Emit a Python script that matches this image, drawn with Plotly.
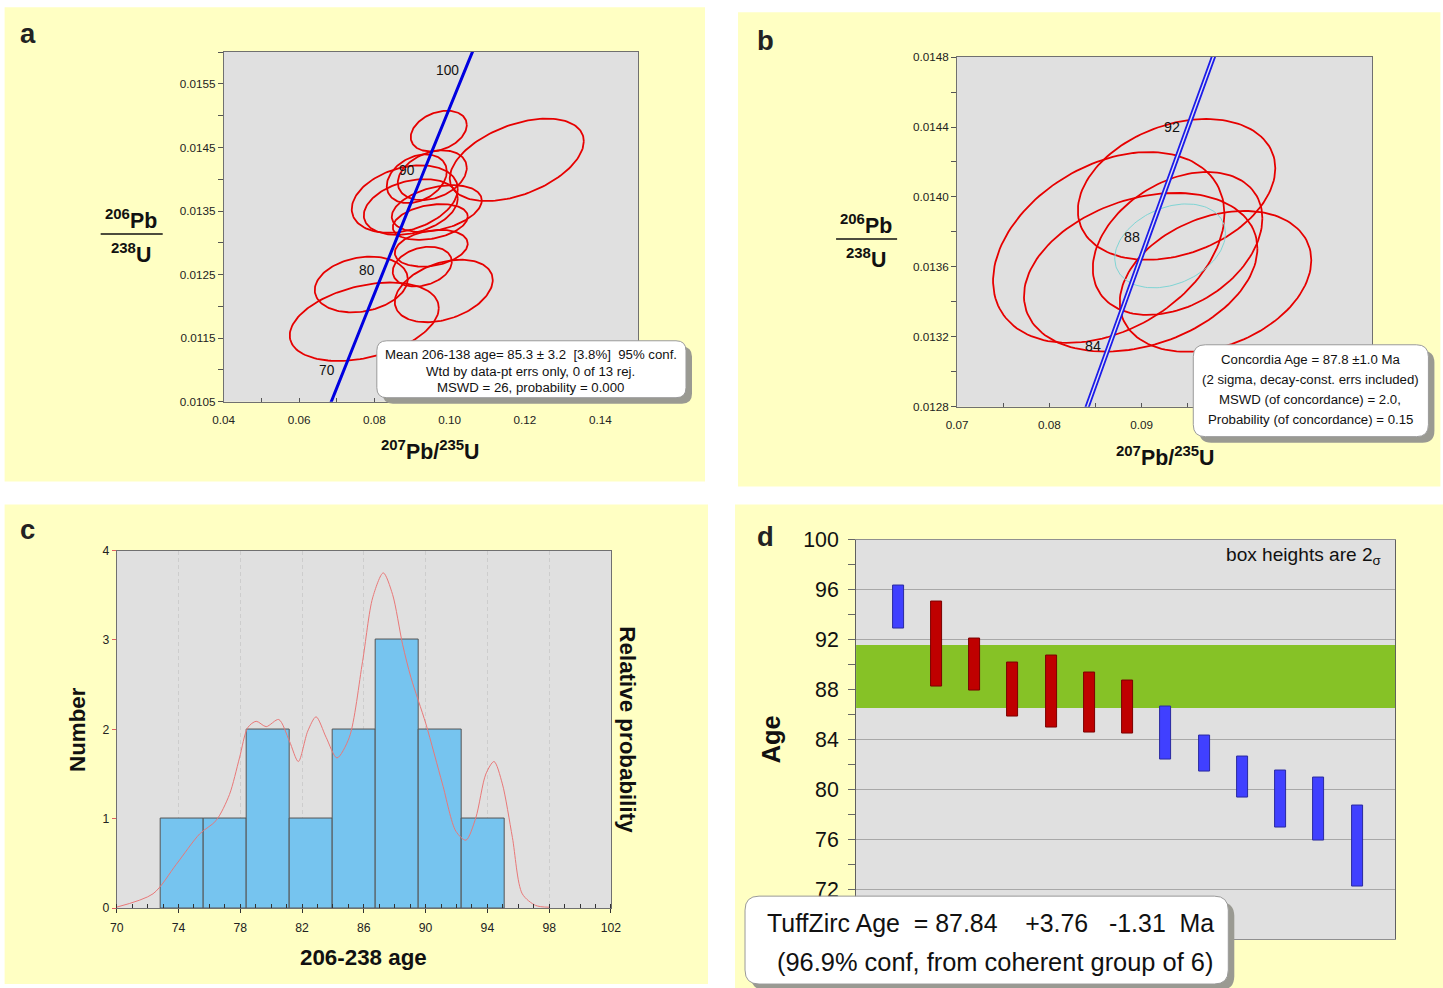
import numpy as np
import plotly.graph_objects as go

# The page is photographed with an 8px body margin and a slight down-scaling,
# so reference pixel positions are mapped into figure pixels below.
BODY_MARGIN = 8
SX, SY = 0.985, 0.982
CX, CY = 3.5, 4.0
FS = 1 / 0.9835          # font / length compensation
W, H = 1453, 994
FONT = "Liberation Sans, Arial, sans-serif"

# ---------------- data ----------------
LAMBDA_238 = 1.55125e-10
LAMBDA_235 = 9.8485e-10
conc_ages = [60, 64, 68, 72, 76, 80, 84, 88, 92, 96, 100, 104, 108, 112]

# panel a : 13 analyses (207Pb/235U, 2s, 206Pb/238U, 2s, rho)
a_x = [0.09710, 0.11782, 0.09126, 0.09538, 0.08807, 0.08967, 0.09657,
       0.09485, 0.09511, 0.09272, 0.09843, 0.07652, 0.07732]
a_sx = [0.00744, 0.01780, 0.00797, 0.00916, 0.01408, 0.01248, 0.01195,
        0.00996, 0.00969, 0.00784, 0.01301, 0.01235, 0.01979]
a_y = [0.014758, 0.014305, 0.014008, 0.014063, 0.013688, 0.013563, 0.013539,
       0.013328, 0.012914, 0.012625, 0.012242, 0.012344, 0.011758]
a_sy = [0.000320, 0.000648, 0.000383, 0.000391, 0.000531, 0.000438, 0.000367,
        0.000281, 0.000289, 0.000313, 0.000492, 0.000438, 0.000617]
a_rho = [0.30, 0.45, 0.30, 0.30, 0.30, 0.30, 0.35, 0.30, 0.25, 0.25, 0.35, 0.20, 0.35]
a_conc_labels = [70, 80, 90, 100]

# panel b : coherent group
b_x = [0.09378, 0.08643, 0.09389, 0.08989, 0.09800]
b_sx = [0.01070, 0.01254, 0.00919, 0.01265, 0.01038]
b_y = [0.014043, 0.013711, 0.013734, 0.013569, 0.013517]
b_sy = [0.000403, 0.000546, 0.000409, 0.000454, 0.000403]
b_rho = [0.30, 0.35, 0.35, 0.30, 0.30]
b_mean = [0.09308, 0.0060, 0.01372, 0.00024, 0.30]
b_conc_labels = [84, 88, 92]

# panel c : histogram + relative probability
hist_counts = [1, 1, 2, 1, 2, 3, 2, 1]
hist_start = 72.85
hist_width = 2.785
pdf_age = [69.98, 72.35, 73.86, 75.37, 76.44, 77.30, 77.95, 78.49, 79.03, 79.68,
           80.49, 81.18, 81.76, 82.37, 82.91, 83.56, 84.26, 85.06, 85.92, 86.57,
           87.26, 87.86, 88.51, 89.05, 90.02, 91.09, 91.96, 92.61, 93.25, 93.90,
           94.43, 94.97, 95.62, 96.26, 97.13, 97.99]
pdf_val = [0.01, 0.16, 0.49, 0.83, 0.98, 1.27, 1.68, 2.02, 2.09, 2.03,
           2.11, 1.87, 1.64, 1.98, 2.14, 1.91, 1.68, 1.91, 2.76, 3.47,
           3.75, 3.51, 2.95, 2.58, 2.06, 1.39, 0.86, 0.76, 1.01, 1.50,
           1.64, 1.39, 0.79, 0.16, 0.03, 0.01]

# panel d : weighted ages (2 sigma boxes)
d_high = [96.32, 95.04, 92.05, 90.16, 90.72, 89.33, 88.72, 86.59, 84.32, 82.61, 81.47, 80.91, 78.67]
d_low = [92.90, 88.26, 87.87, 85.81, 84.93, 84.53, 84.48, 82.40, 81.39, 79.36, 76.96, 75.87, 72.21]
d_coherent = [False, True, True, True, True, True, True, False, False, False, False, False, False]
tuff_age, tuff_plus, tuff_minus = 87.84, 3.76, 1.31

# tick labels
a_xticks = [0.04, 0.06, 0.08, 0.10, 0.12, 0.14]
a_yticks = [0.0105, 0.0115, 0.0125, 0.0135, 0.0145, 0.0155]
b_xticks = [0.07, 0.08, 0.09]
b_yticks = [0.0128, 0.0132, 0.0136, 0.0140, 0.0144, 0.0148]
c_xticks = [70, 74, 78, 82, 86, 90, 94, 98, 102]
c_yticks = [0, 1, 2, 3, 4]
d_yticks = [72, 76, 80, 84, 88, 92, 96, 100]

# ---------------- helpers ----------------
def X(p):
    return ((p - CX) / SX - BODY_MARGIN) / W

def Y(p):
    return 1 - ((p - CY) / SY - BODY_MARGIN) / H

def F(s):
    return round(s * FS, 2)

def concordia(ages):
    t = np.asarray(ages, float) * 1e6
    return np.exp(LAMBDA_235 * t) - 1, np.exp(LAMBDA_238 * t) - 1

def ellipses(cx, sx, cy, sy, rho, n=140):
    xs, ys = [], []
    t = np.linspace(0, 2 * np.pi, n)
    for a, b, c, d, r in zip(cx, sx, cy, sy, rho):
        xs += list(a + b * np.cos(t)) + [None]
        ys += list(c + d * (r * np.cos(t) + np.sqrt(1 - r * r) * np.sin(t))) + [None]
    return xs, ys

def rrect_path(x0, y0, x1, y1, r):
    return (f"M {X(x0+r)},{Y(y0)} L {X(x1-r)},{Y(y0)} Q {X(x1)},{Y(y0)} {X(x1)},{Y(y0+r)} "
            f"L {X(x1)},{Y(y1-r)} Q {X(x1)},{Y(y1)} {X(x1-r)},{Y(y1)} "
            f"L {X(x0+r)},{Y(y1)} Q {X(x0)},{Y(y1)} {X(x0)},{Y(y1-r)} "
            f"L {X(x0)},{Y(y0+r)} Q {X(x0)},{Y(y0)} {X(x0+r)},{Y(y0)} Z")

annotations = []

def ann(px, py, text, size=13, color="#111", angle=0, xanchor="center", yanchor="middle"):
    annotations.append(dict(x=X(px), y=Y(py), xref="paper", yref="paper", text=text,
                            showarrow=False, textangle=angle, xanchor=xanchor, yanchor=yanchor,
                            font=dict(family=FONT, size=F(size), color=color)))

fig = go.Figure()

# ---------------- panel a ----------------
ex, ey = ellipses(a_x, a_sx, a_y, a_sy, a_rho)
fig.add_trace(go.Scatter(x=ex, y=ey, mode="lines", line=dict(color="#E60000", width=1.8),
                         xaxis="x", yaxis="y", hoverinfo="skip"))
cx, cy = concordia(conc_ages)
fig.add_trace(go.Scatter(x=cx, y=cy, mode="lines", line=dict(color="#0000E0", width=3, shape="spline"),
                         xaxis="x", yaxis="y", hoverinfo="skip"))
lx, ly = concordia(a_conc_labels)
for age, xx, yy in zip(a_conc_labels, lx, ly):
    annotations.append(dict(x=xx, y=yy, xref="x", yref="y", text=str(age), showarrow=False,
                            xshift=F(-15), yshift=F(5), font=dict(family=FONT, size=F(13.5), color="#111")))

# ---------------- panel b ----------------
ex, ey = ellipses(b_x, b_sx, b_y, b_sy, b_rho)
fig.add_trace(go.Scatter(x=ex, y=ey, mode="lines", line=dict(color="#E60000", width=1.8),
                         xaxis="x2", yaxis="y2", hoverinfo="skip"))
mx, my = ellipses([b_mean[0]], [b_mean[1]], [b_mean[2]], [b_mean[3]], [b_mean[4]])
fig.add_trace(go.Scatter(x=mx, y=my, mode="lines", line=dict(color="#7FD4D4", width=1),
                         xaxis="x2", yaxis="y2", hoverinfo="skip"))
fig.add_trace(go.Scatter(x=cx, y=cy, mode="lines", line=dict(color="#1C1CE8", width=5, shape="spline"),
                         xaxis="x2", yaxis="y2", hoverinfo="skip"))
fig.add_trace(go.Scatter(x=cx, y=cy, mode="lines", line=dict(color="#E4E4F4", width=1.4, shape="spline"),
                         xaxis="x2", yaxis="y2", hoverinfo="skip"))
lx, ly = concordia(b_conc_labels)
for age, xx, yy in zip(b_conc_labels, lx, ly):
    annotations.append(dict(x=xx, y=yy, xref="x2", yref="y2", text=str(age), showarrow=False,
                            xshift=F(-14), yshift=F(5), font=dict(family=FONT, size=F(14), color="#111")))

# ---------------- panel c ----------------
centers = [hist_start + hist_width * (i + 0.5) for i in range(len(hist_counts))]
fig.add_trace(go.Bar(x=centers, y=hist_counts, width=hist_width,
                     marker=dict(color="#76C4EF", line=dict(color="#555555", width=1)),
                     xaxis="x3", yaxis="y3", hoverinfo="skip"))
fig.add_trace(go.Scatter(x=pdf_age, y=pdf_val, mode="lines",
                         line=dict(color="#E87878", width=1, shape="spline", smoothing=0.8),
                         xaxis="x3", yaxis="y3", hoverinfo="skip"))

# ---------------- panel d ----------------
fig.add_trace(go.Bar(x=[6.95], y=[tuff_plus + tuff_minus], base=[tuff_age - tuff_minus], width=[14.1],
                     marker=dict(color="#86C226", line=dict(width=0)),
                     xaxis="x4", yaxis="y4", hoverinfo="skip"))
idx = list(range(1, len(d_low) + 1))
cols = ["#BF0000" if c else "#4040FF" for c in d_coherent]
lcols = ["#7A0000" if c else "#2A2AA0" for c in d_coherent]
fig.add_trace(go.Bar(x=idx, y=[h - l for h, l in zip(d_high, d_low)], base=d_low, width=0.29,
                     marker=dict(color=cols, line=dict(color=lcols, width=1)),
                     xaxis="x4", yaxis="y4", hoverinfo="skip"))

# ---------------- axes ----------------
tickfont = dict(family=FONT, size=F(11.5), color="#222")
common = dict(showline=True, linecolor="#707070", linewidth=1, mirror=True, zeroline=False,
              showgrid=False, fixedrange=True, tickfont=tickfont, tickcolor="#555")

layout_axes = dict(
    xaxis=dict(common, domain=[X(224), X(638)], range=[0.04, 0.15], anchor="y",
               tickvals=a_xticks, tickformat=".2f", ticks="inside", ticklen=4, ticklabelstandoff=7,
               minor=dict(tick0=0.04, dtick=0.01, ticks="inside", ticklen=4, tickcolor="#555")),
    yaxis=dict(common, domain=[Y(402), Y(52)], range=[0.0105, 0.016], anchor="x",
               tickvals=a_yticks, tickformat=".4f", ticks="outside", ticklen=5,
               minor=dict(tick0=0.0105, dtick=0.0005, ticks="outside", ticklen=5, tickcolor="#555")),
    xaxis2=dict(common, domain=[X(957), X(1372)], range=[0.07, 0.115], anchor="y2",
                tickvals=b_xticks, tickformat=".2f", ticks="inside", ticklen=4, ticklabelstandoff=7,
                minor=dict(tick0=0.07, dtick=0.005, ticks="inside", ticklen=4, tickcolor="#555")),
    yaxis2=dict(common, domain=[Y(407), Y(57)], range=[0.0128, 0.0148], anchor="x2",
                tickvals=b_yticks, tickformat=".4f", ticks="outside", ticklen=5,
                minor=dict(tick0=0.0128, dtick=0.0002, ticks="outside", ticklen=5, tickcolor="#555")),
    xaxis3=dict(common, domain=[X(117), X(611)], range=[70, 102], anchor="y3",
                tickvals=c_xticks, ticks="outside", ticklen=4, tickcolor="#333", ticklabelstandoff=4,
                tickfont=dict(family=FONT, size=F(12), color="#222"),
                showgrid=True, gridcolor="#CDCDCD", griddash="4px,3px", gridwidth=1,
                minor=dict(tick0=70, dtick=1, ticks="inside", ticklen=4, tickcolor="#333", showgrid=False)),
    yaxis3=dict(common, domain=[Y(909), Y(551)], range=[0, 4], anchor="x3",
                tickvals=c_yticks, ticks="outside", ticklen=4, tickcolor="#E06060",
                tickfont=dict(family=FONT, size=F(12), color="#222")),
    xaxis4=dict(common, domain=[X(856), X(1395)], range=[-0.1, 14], anchor="y4",
                showticklabels=False, ticks="", linecolor="#909090"),
    yaxis4=dict(common, domain=[Y(940), Y(540)], range=[68, 100], anchor="x4",
                tickvals=d_yticks, ticks="outside", ticklen=7, tickcolor="#666", ticklabelstandoff=5,
                tickfont=dict(family=FONT, size=F(21), color="#111"),
                showgrid=True, gridcolor="#A8A8A8", gridwidth=1, linecolor="#606060",
                minor=dict(tick0=68, dtick=2, ticks="outside", ticklen=7, tickcolor="#666", showgrid=False)),
)

# ---------------- shapes ----------------
YEL = "#FFFFC3"
GREY = "#E0E0E0"
shapes = []
for (x0, y0, x1, y1) in [(5, 7, 705, 482), (738, 12, 1440, 487), (5, 505, 708, 985), (735, 505, 1460, 1010)]:
    shapes.append(dict(type="rect", xref="paper", yref="paper", x0=X(x0), x1=X(x1), y0=Y(y1), y1=Y(y0),
                       fillcolor=YEL, line=dict(width=0), layer="below"))
for (x0, y0, x1, y1) in [(224, 52, 638, 402), (957, 57, 1372, 407), (117, 551, 611, 909), (856, 540, 1395, 940)]:
    shapes.append(dict(type="rect", xref="paper", yref="paper", x0=X(x0), x1=X(x1), y0=Y(y1), y1=Y(y0),
                       fillcolor=GREY, line=dict(width=0), layer="below"))
# fraction bars of y titles
for (x0, x1, yy) in [(101, 163, 234), (836, 897, 239)]:
    shapes.append(dict(type="line", xref="paper", yref="paper", x0=X(x0), x1=X(x1), y0=Y(yy), y1=Y(yy),
                       line=dict(color="#111", width=1.5)))
# result boxes with shadows
for (x0, y0, x1, y1, r) in [(377, 341, 686, 398, 10), (1193, 345, 1428, 437, 12), (745, 897, 1228, 985, 14)]:
    shapes.append(dict(type="path", xref="paper", yref="paper", path=rrect_path(x0 + 6, y0 + 6, x1 + 6, y1 + 6, r),
                       fillcolor="#9A9A92", line=dict(width=0), layer="above"))
    shapes.append(dict(type="path", xref="paper", yref="paper", path=rrect_path(x0, y0, x1, y1, r),
                       fillcolor="#FFFFFF", line=dict(color="#9A9A9A", width=1), layer="above"))

# ---------------- texts ----------------
NB = "\u00a0"
ann(28, 33, "<b>a</b>", 27, "#222")
ann(765, 40, "<b>b</b>", 27, "#222")
ann(28, 530, "<b>c</b>", 27, "#222")
ann(765, 537, "<b>d</b>", 27, "#222")

ann(131, 219, "<b><sup>206</sup>Pb</b>", 21)
ann(131, 253, "<b><sup>238</sup>U</b>", 21)
ann(431, 450, "<b><sup>207</sup>Pb/<sup>235</sup>U</b>", 21)
ann(866, 224, "<b><sup>206</sup>Pb</b>", 21)
ann(866, 258, "<b><sup>238</sup>U</b>", 21)
ann(1165, 456, "<b><sup>207</sup>Pb/<sup>235</sup>U</b>", 21)

ann(531, 355, f"Mean 206-138 age= 85.3 ± 3.2 {NB}[3.8%] {NB}95% conf.", 13)
ann(531, 371.5, "Wtd by data-pt errs only, 0 of 13 rej.", 13)
ann(531, 388, "MSWD = 26, probability = 0.000", 13)

ann(1310, 360, "Concordia Age = 87.8 ±1.0 Ma", 13)
ann(1310, 380, "(2 sigma, decay-const. errs included)", 13)
ann(1310, 400, "MSWD (of concordance) = 2.0,", 13)
ann(1310, 420, "Probability (of concordance) = 0.15", 13)

ann(78, 730, "<b>Number</b>", 22, angle=-90)
ann(364, 958, "<b>206-238 age</b>", 22)
ann(628, 731, "<b>Relative probability</b>", 22, angle=90)

ann(771, 740, "<b>Age</b>", 25, angle=-90)
ann(1384, 556, "box heights are 2<sub>σ</sub>", 18.8, xanchor="right")
ann(765, 924, f"TuffZirc Age {NB}= 87.84 {NB}{NB}{NB}+3.76 {NB}{NB}-1.31 {NB}Ma", 24.5, xanchor="left")
ann(775, 963, "(96.9% conf, from coherent group of 6)", 25, xanchor="left")

fig.update_layout(
    width=W, height=H, margin=dict(l=0, r=0, t=0, b=0),
    paper_bgcolor="#FFFFFF", plot_bgcolor="rgba(0,0,0,0)",
    showlegend=False, barmode="overlay", bargap=0,
    shapes=shapes, annotations=annotations,
    font=dict(family=FONT, color="#111"),
    **layout_axes,
)

fig.write_html("out.html", config={"displayModeBar": False})
